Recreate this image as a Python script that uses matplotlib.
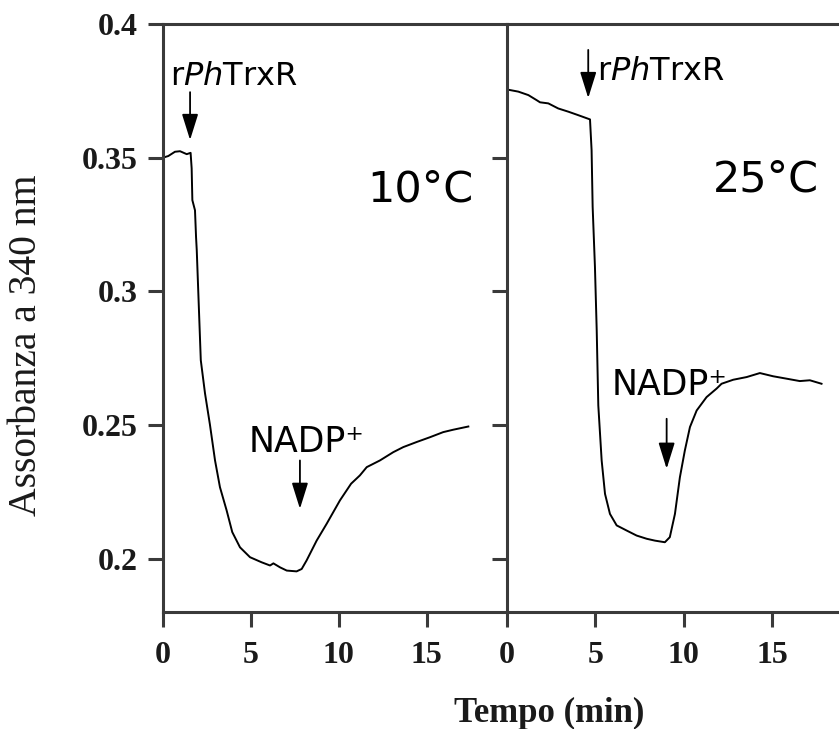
import matplotlib
matplotlib.use("Agg")
import matplotlib.pyplot as plt

# ---- data ----
t10 = [0, 0.3, 0.68, 0.97, 1.35, 1.57, 1.63, 1.67, 1.82, 1.88, 1.92, 2.15,
       2.39, 2.67, 2.96, 3.24, 3.62, 3.94, 4.38, 4.95, 5.61, 6.09, 6.28, 6.66,
       7.04, 7.6, 7.89, 8.17, 8.74, 9.31, 10.07, 10.7, 11.2, 11.59, 12.34,
       13.1, 13.67, 14.43, 15.19, 15.94, 16.51, 17.37]
a10 = [0.3500, 0.3506, 0.3522, 0.3524, 0.3513, 0.3518, 0.3460, 0.3341, 0.3303,
       0.3203, 0.3154, 0.2742, 0.2618, 0.2501, 0.2367, 0.2267, 0.2180, 0.2099,
       0.2042, 0.2005, 0.1986, 0.1974, 0.1982, 0.1967, 0.1955, 0.1952, 0.1961,
       0.1993, 0.2067, 0.2130, 0.2218, 0.2280, 0.2311, 0.2342, 0.2367, 0.2398,
       0.2417, 0.2436, 0.2454, 0.2473, 0.2482, 0.2494]

t25 = [0, 0.64, 1.21, 1.68, 1.87, 2.34, 2.9, 3.47, 4.03, 4.7, 4.79, 4.85, 4.98,
       5.08, 5.17, 5.36, 5.55, 5.83, 6.21, 6.77, 7.34, 7.91, 8.38, 8.94, 9.22,
       9.51, 9.79, 10.07, 10.36, 10.74, 11.3, 11.87, 12.15, 12.81, 13.57, 14.32,
       15.07, 15.83, 16.58, 17.15, 17.81]
a25 = [0.3755, 0.3747, 0.3734, 0.3715, 0.3707, 0.3703, 0.3684, 0.3672, 0.3659,
       0.3643, 0.3528, 0.3316, 0.3091, 0.2854, 0.2573, 0.2367, 0.2242, 0.2167,
       0.2124, 0.2105, 0.2086, 0.2074, 0.2067, 0.2061, 0.2080, 0.2167, 0.2304,
       0.2404, 0.2492, 0.2554, 0.2604, 0.2636, 0.2654, 0.2669, 0.2679, 0.2694,
       0.2682, 0.2673, 0.2664, 0.2667, 0.2654]

xticks = [0, 5, 10, 15]
yticks = [0.2, 0.25, 0.3, 0.35, 0.4]
ytick_labels = ["0.2", "0.25", "0.3", "0.35", "0.4"]
temp_labels = ["10°C", "25°C"]
enzyme_label = r"r$\mathit{Ph}$TrxR"
nadp_label = "NADP⁺"

plt.rcParams['mathtext.fontset'] = 'custom'
plt.rcParams['mathtext.rm'] = 'DejaVu Sans'
plt.rcParams['mathtext.it'] = 'DejaVu Sans:italic'

fig = plt.figure(figsize=(8.39, 7.29), dpi=100)
W, H = 839, 729
x_left, x_mid, x_right = 163, 507, 839
y_top, y_bot = 24, 612
axL = fig.add_axes([x_left / W, 1 - y_bot / H, (x_mid - x_left) / W, (y_bot - y_top) / H])
axR = fig.add_axes([x_mid / W, 1 - y_bot / H, (x_right - x_mid) / W, (y_bot - y_top) / H])

spine_col = '#3a3a3a'
tick_font = dict(fontfamily='Liberation Serif', fontweight='bold', fontsize=23, color='#1a1a1a')
for ax, t, a, xmax in [(axL, t10, a10, 19.57), (axR, t25, a25, 18.8)]:
    ax.plot(t, a, color='black', lw=1.4)
    ax.set_xlim(0, xmax)
    ax.set_ylim(0.18, 0.4)
    ax.spines['right'].set_visible(False)
    for s in ['left', 'top', 'bottom']:
        ax.spines[s].set_color(spine_col)
        ax.spines[s].set_linewidth(2.2)
    ax.set_xticks(xticks)
    ax.set_xticklabels([str(v) for v in xticks], **tick_font)
    ax.tick_params(axis='both', direction='out', length=11, width=2.2, color=spine_col)
    ax.tick_params(axis='x', pad=10)
    ax.tick_params(axis='y', pad=7)
    ax.set_facecolor('none')

axL.set_yticks(yticks)
axL.set_yticklabels(ytick_labels, **tick_font)
axR.set_yticks(yticks[:-1])
axR.set_yticklabels([])

arrow_kw = dict(arrowstyle='-|>,head_length=0.8,head_width=0.25', mutation_scale=20,
                lw=1.3, color='black', shrinkA=0, shrinkB=0)
txt_kw = dict(fontfamily=['DejaVu Sans'], color='black')

# left panel annotations
axL.text(0.4, 0.3772, enzyme_label, fontsize=23, ha='left', va='baseline', **txt_kw)
axL.annotate('', xy=(1.54, 0.3566), xytext=(1.54, 0.3745), arrowprops=arrow_kw)
axL.text(4.85, 0.2398, nadp_label, fontsize=25, ha='left', va='baseline', **txt_kw)
axL.annotate('', xy=(7.79, 0.2186), xytext=(7.79, 0.2367), arrowprops=arrow_kw)
axL.text(11.6, 0.3335, temp_labels[0], fontsize=31, ha='left', va='baseline', **txt_kw)

# right panel annotations
axR.annotate('', xy=(4.6, 0.3723), xytext=(4.6, 0.3903), arrowprops=arrow_kw)
axR.text(5.08, 0.3790, enzyme_label, fontsize=23, ha='left', va='baseline', **txt_kw)
axR.text(5.93, 0.2611, nadp_label, fontsize=25, ha='left', va='baseline', **txt_kw)
axR.annotate('', xy=(9.04, 0.2336), xytext=(9.04, 0.2523), arrowprops=arrow_kw)
axR.text(11.68, 0.3372, temp_labels[1], fontsize=31, ha='left', va='baseline', **txt_kw)

fig.text(549 / W, 1 - 722 / H, "Tempo (min)", fontfamily='Liberation Serif',
         fontweight='bold', fontsize=25, ha='center', va='baseline', color='#1a1a1a')
fig.text(27 / W, 1 - 345 / H, "Assorbanza a 340 nm", fontfamily='Liberation Serif',
         fontsize=28.5, rotation=90, ha='center', va='center', color='#1a1a1a')

fig.savefig('out.png', dpi=100)
